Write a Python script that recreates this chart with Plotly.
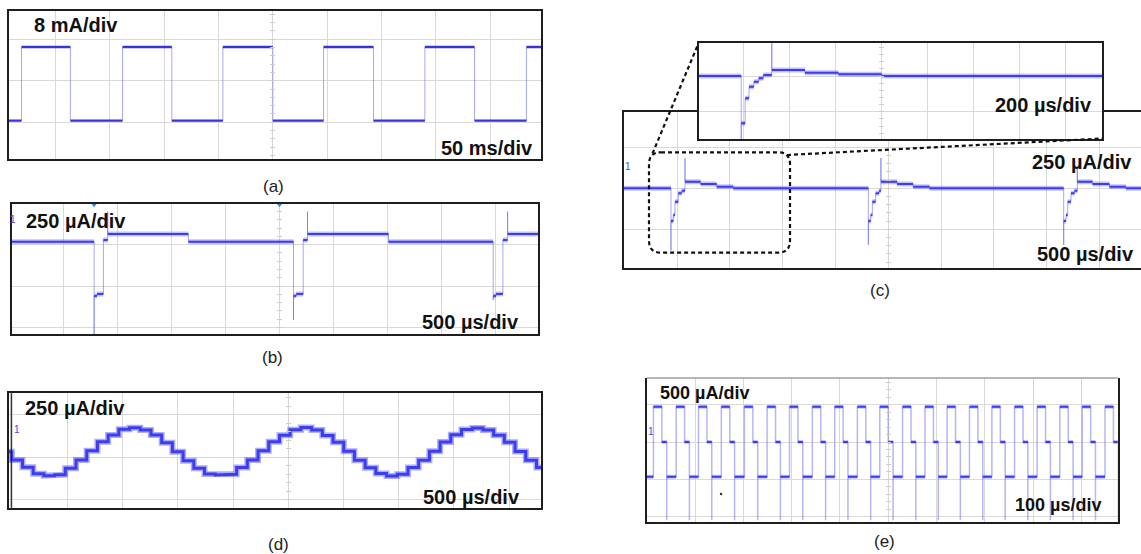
import plotly.graph_objects as go

W, H = 1141, 554

# ---------------- data ----------------
# (a) square wave, 50 ms/div, 8 mA/div : level holds from t[i] to t[i+1]
a_t_ms = [-260, -231.4, -186.4, -138.4, -93.0, -46.0, 0.0, 46.7, 92.7, 140.0, 185.7, 233.5]
a_i_mA = [-7.7, 6.5, -7.7, 6.5, -7.7, 6.5, -7.7, 6.5, -7.7, 6.5, -7.7, 6.5]
a_t_end_ms = 260

# (b) 500 us/div, 250 uA/div (zero-length entries are spikes)
b_t_us = [-2600, -1716.7, -1716.7, -1690, -1630.6, -1590.7, -1590.7, -843.5,
          129.6, 129.6, 155, 219.4, 259.3, 259.3, 1009.3,
          1978.7, 1978.7, 2005, 2068.5, 2112, 2112]
b_i_uA = [268, -300, -60, -48, 278, 450, 315, 268,
          -206, -60, -48, 278, 450, 315, 268,
          -85, -60, -48, 278, 450, 315]
b_t_end_us = 2600
b_trigger_us = [-1716.7, 0]

# (c) main trace, 500 us/div, 250 uA/div
c_t_us = [-2600, -2058, -2058, -2036, -2020, -1989, -1956, -1925, -1925, -1777, -1625, -1468,
          -189, -189, -167, -151, -120, -87, -70, -70, 83, 235, 390,
          1661, 1661, 1683, 1699, 1730, 1763, 1790, 1790, 1934, 2094, 2250]
c_i_uA = [0, -380, -200, -163, -82, -30, -15, 183, 40, 26, 10, 0,
          -345, -200, -163, -82, -30, -15, 184, 40, 26, 10, 0,
          -345, -200, -163, -82, -30, -15, 132, 40, 26, 10, 0]
c_t_end_us = 2600

# (c) inset, 200 us/div
ci_t_us = [-900, -610, -610, -593, -576, -555, -534, -514, -477, -477, -333, -188, 1]
ci_i_uA = [0, -470, -331, -156, -75, -40, -16, 7, 260, 42, 23, 12, 0]
ci_t_end_us = 1000

# (d) stair-stepped sine, 500 us/div, 250 uA/div
d_t_us = [-2560, -2505, -2408, -2311, -2214, -2117, -2020, -1923, -1826, -1729, -1632,
          -1535, -1438, -1341, -1244, -1147, -1050, -953, -856, -759, -662,
          -565, -468, -371, -274, -177, -80, 17, 114, 211, 308,
          405, 502, 599, 696, 793, 890, 987, 1084, 1181, 1278,
          1375, 1472, 1569, 1666, 1763, 1860, 1957, 2054, 2151, 2248]
d_i_uA = [33, -16, -59, -97, -108, -102, -64, -16, 39, 92, 131,
          165, 174, 161, 131, 86, 33, -20, -64, -98, -104,
          -100, -60, -16, 38, 92, 130, 162, 176, 160, 128,
          88, 35, -18, -62, -96, -110, -100, -60, -18, 36,
          90, 132, 163, 172, 160, 130, 88, 34, -18, -60]
d_t_end_us = 2400

# (e) three-level pulse train, 100 us/div, 500 uA/div
e_period_start_us = [-486.1, -439.1, -392.8, -345.5, -297.7, -250.7, -204.3, -157.1, -110.8,
                     -63.8, -17.4, 29.8, 76.2, 121.9, 168.3, 214.7, 261.7, 308.3, 355.3,
                     401.7, 448.9]
e_high_uA, e_mid_uA, e_low_uA, e_spike_uA = 470, 0, -465, -1045
e_high_len_us, e_mid_end_us = 17.5, 27.5
e_t_begin_us, e_t_end_us = -520, 500
e_dot = (-346, -695)

scale_labels = [
    ("8 mA/div", 31.5, 25.5, 20), ("50 ms/div", 438.5, 147.5, 20),
    ("250 µA/div", 24.2, 221, 20), ("500 µs/div", 419.7, 322, 20),
    ("200 µs/div", 993.3, 104.5, 20), ("250 µA/div", 1029.9, 162, 20), ("500 µs/div", 1035, 253.5, 20),
    ("250 µA/div", 22.7, 407.5, 20), ("500 µs/div", 420.5, 497, 20),
    ("500 µA/div", 658.4, 393, 18), ("100 µs/div", 1013, 505, 18),
]
captions = [("(a)", 273, 186), ("(b)", 272, 357), ("(c)", 880, 290.5), ("(d)", 278, 544), ("(e)", 884, 541.5)]
channel_marks = [(13.4, 219.3), (628.3, 166), (16.7, 429.3), (650.7, 431.7)]

# ---------------- layout of panels (pixel boxes) ----------------
GRID = "#d9d9d9"
BORDER = "#1e1e1e"
TICK = "#cdcdcd"
panels = [
    dict(box=(9, 10.5, 541, 159.3), xr=(-242.9, 246.9), yr=(-15.15, 13.53), xdiv=50, ydiv=8),
    dict(box=(12, 204.3, 538, 334), xr=(-2476.9, 2393.5), yr=(-290.6, 494.6), xdiv=500, ydiv=250),
    dict(box=(624, 112.3, 1141, 268.3), xr=(-2502.8, 2393), yr=(-487.8, 463.4), xdiv=500, ydiv=250, ymirror=False),
    dict(box=(698.5, 43.3, 1102, 139), xr=(-795.7, 958.7), yr=(-441, 229), xdiv=200, ydiv=250),
    dict(box=(9, 393.3, 541, 507.7), xr=(-2530, 2289), yr=(-296.5, 376.5), xdiv=500, ydiv=250),
    dict(box=(646.7, 378, 1117.7, 521.7), xr=(-500, 475.2), yr=(-1065.5, 855.6), xdiv=100, ydiv=500,
         xmirror=False, xlinewidth=2),
]

traces = []
layout = dict(width=W, height=H, margin=dict(l=0, r=0, t=0, b=0),
              paper_bgcolor="white", plot_bgcolor="white", showlegend=False)

def sfx(k):
    return "" if k == 1 else str(k)

for k, p in enumerate(panels, start=1):
    s = sfx(k)
    x0, y0, x1, y1 = p["box"]
    layout["xaxis" + s] = dict(domain=[x0 / W, x1 / W], range=list(p["xr"]), anchor="y" + s,
                               tick0=0, dtick=p["xdiv"], showgrid=True, gridcolor=GRID, gridwidth=1,
                               showticklabels=False, ticks="", zeroline=False, showline=True,
                               mirror=p.get("xmirror", True), linecolor=BORDER,
                               linewidth=p.get("xlinewidth", 1.5), fixedrange=True)
    layout["yaxis" + s] = dict(domain=[1 - y1 / H, 1 - y0 / H], range=list(p["yr"]), anchor="x" + s,
                               tick0=0, dtick=p["ydiv"], showgrid=True, gridcolor=GRID, gridwidth=1,
                               showticklabels=False, ticks="", zeroline=False, showline=True,
                               mirror=p.get("ymirror", True), linecolor=BORDER, linewidth=1.5,
                               fixedrange=True)
    # minor tick marks along the centre graticule line
    m = str(k + 6)
    cx = x0 + (0 - p["xr"][0]) / (p["xr"][1] - p["xr"][0]) * (x1 - x0)
    layout["yaxis" + m] = dict(overlaying="y" + s, anchor="free", position=(cx + 2.5) / W,
                               range=list(p["yr"]), tick0=0, dtick=p["ydiv"] / 5, ticks="outside",
                               ticklen=5, tickwidth=1, tickcolor=TICK, showticklabels=False,
                               showgrid=False, zeroline=False, showline=False, fixedrange=True)
    traces.append(go.Scatter(x=[], y=[], xaxis="x" + s, yaxis="y" + m, hoverinfo="skip"))


def step_path(t, v, t_end):
    tt = list(t) + [t_end]
    xs, ys = [], []
    for i in range(len(v)):
        xs += [tt[i], tt[i + 1]]
        ys += [v[i], v[i]]
    return xs, ys


def flats(t, v, t_end):
    tt = list(t) + [t_end]
    xs, ys = [], []
    for i in range(len(v)):
        if tt[i + 1] > tt[i]:
            xs += [tt[i], tt[i + 1], None]
            ys += [v[i], v[i], None]
    return xs, ys


def add_wave(t, v, t_end, k, layers, full=False):
    s = sfx(k)
    px, py = step_path(t, v, t_end)
    fx, fy = flats(t, v, t_end)
    for i, (color, width) in enumerate(layers):
        if i == 0 or full:
            x, y = px, py
        else:
            x, y = fx, fy
        traces.append(go.Scatter(x=x, y=y, mode="lines", line=dict(color=color, width=width),
                                 xaxis="x" + s, yaxis="y" + s, hoverinfo="skip", connectgaps=False))


EDGE = "rgba(95,95,240,0.55)"
HALO = "rgba(80,80,245,0.35)"
CORE = "#3d3df0"

add_wave(a_t_ms, a_i_mA, a_t_end_ms, 1, [("rgba(110,110,235,0.6)", 1), ("#3535d8", 2.4)])
add_wave(b_t_us, b_i_uA, b_t_end_us, 2, [(EDGE, 1), (HALO, 5), (CORE, 2)])
add_wave(c_t_us, c_i_uA, c_t_end_us, 3, [(EDGE, 1), (HALO, 5), (CORE, 2)])
add_wave(ci_t_us, ci_i_uA, ci_t_end_us, 4, [(EDGE, 1), (HALO, 5), (CORE, 2)])
add_wave(d_t_us, d_i_uA, d_t_end_us, 5, [("rgba(70,70,240,0.45)", 6), (CORE, 3)], full=True)

# (e) waveform from the read period starts and level durations
e_t, e_v = [e_t_begin_us], [e_low_uA]
for t0 in e_period_start_us:
    e_t += [t0, t0 + e_high_len_us, t0 + e_mid_end_us, t0 + e_mid_end_us]
    e_v += [e_high_uA, e_mid_uA, e_spike_uA, e_low_uA]
add_wave(e_t, e_v, e_t_end_us, 6, [("rgba(120,120,242,0.55)", 1.5), (HALO, 4), (CORE, 2)])

# trigger markers of (b) and the stray dot of (e)
traces.append(go.Scatter(x=b_trigger_us, y=[panels[1]["yr"][1]] * len(b_trigger_us), mode="markers",
                         marker=dict(symbol="triangle-down", size=6, color="#2f8fe0"),
                         xaxis="x2", yaxis="y2", cliponaxis=False, hoverinfo="skip"))
traces.append(go.Scatter(x=[e_dot[0]], y=[e_dot[1]], mode="markers",
                         marker=dict(size=2.5, color="#333"), xaxis="x6", yaxis="y6", hoverinfo="skip"))


def P(x, y):
    return f"{x / W:.5f},{1 - y / H:.5f}"


shapes = []
# white backdrop of the inset
pin = panels[3]
shapes.append(dict(type="rect", xref="x4", yref="y4", x0=pin["xr"][0], x1=pin["xr"][1],
                   y0=pin["yr"][0], y1=pin["yr"][1], fillcolor="white", line=dict(width=0), layer="below"))
# double left border of (d)
shapes.append(dict(type="line", xref="paper", yref="paper", x0=11.3 / W, x1=11.3 / W,
                   y0=1 - 507.7 / H, y1=1 - 393.3 / H, line=dict(color=BORDER, width=1.2)))
# thin grey top border of (e)
pe = panels[5]
shapes.append(dict(type="line", xref="paper", yref="paper", x0=pe["box"][0] / W, x1=pe["box"][2] / W,
                   y0=1 - pe["box"][1] / H, y1=1 - pe["box"][1] / H, line=dict(color="#707070", width=1.2)))
# zoom marker: rounded dashed box and the two leader lines
rx0, ry0, rx1, ry1, r = 649, 152.3, 790, 252.7, 12
path = (f"M{P(rx0 + r, ry0)} L{P(rx1 - r, ry0)} Q{P(rx1, ry0)} {P(rx1, ry0 + r)} "
        f"L{P(rx1, ry1 - r)} Q{P(rx1, ry1)} {P(rx1 - r, ry1)} L{P(rx0 + r, ry1)} "
        f"Q{P(rx0, ry1)} {P(rx0, ry1 - r)} L{P(rx0, ry0 + r)} Q{P(rx0, ry0)} {P(rx0 + r, ry0)} Z")
DASH = dict(color="#111", width=2.2, dash="4px,3px")
shapes.append(dict(type="path", xref="paper", yref="paper", path=path, line=DASH, layer="above"))
shapes.append(dict(type="line", xref="paper", yref="paper", x0=652.5 / W, y0=1 - 153.5 / H,
                   x1=698.5 / W, y1=1 - 43.3 / H, line=DASH, layer="above"))
shapes.append(dict(type="line", xref="paper", yref="paper", x0=787 / W, y0=1 - 155 / H,
                   x1=1102 / W, y1=1 - 138.5 / H, line=DASH, layer="above"))
layout["shapes"] = shapes

ann = []
for text, x, y, size in scale_labels:
    ann.append(dict(text=f"<b>{text}</b>", x=x / W, y=1 - y / H, xref="paper", yref="paper",
                    xanchor="left", yanchor="middle", showarrow=False,
                    font=dict(family="Liberation Sans, Arial", size=size, color="#111")))
for text, x, y in captions:
    ann.append(dict(text=text, x=x / W, y=1 - y / H, xref="paper", yref="paper",
                    xanchor="center", yanchor="middle", showarrow=False,
                    font=dict(family="Liberation Sans, Arial", size=17, color="#222")))
for x, y in channel_marks:
    ann.append(dict(text="1", x=x / W, y=1 - y / H, xref="paper", yref="paper",
                    xanchor="center", yanchor="middle", showarrow=False,
                    font=dict(family="Liberation Sans, Arial", size=10, color="#4a4af0")))
layout["annotations"] = ann

fig = go.Figure(data=traces, layout=layout)
fig.write_html("out.html")
